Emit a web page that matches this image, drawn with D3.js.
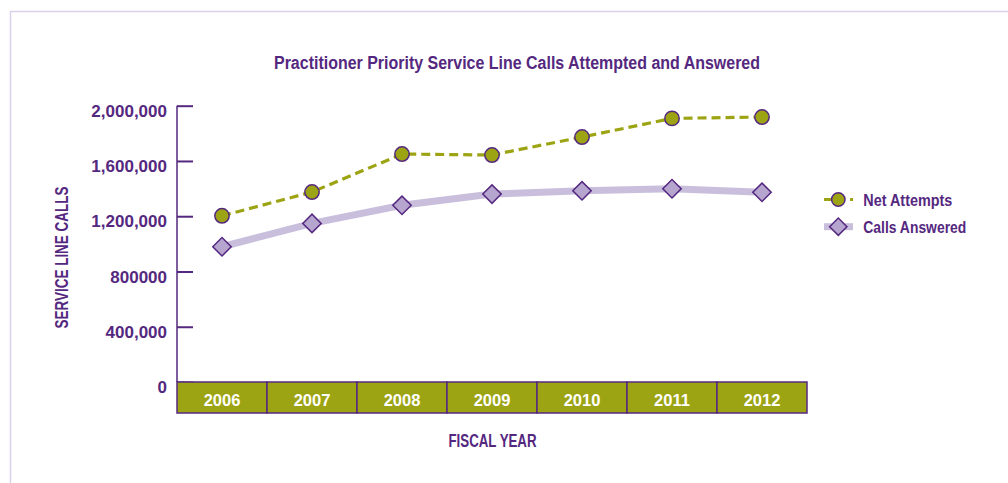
<!DOCTYPE html>
<html>
<head>
<meta charset="utf-8">
<script src="https://cdn.jsdelivr.net/npm/d3@7"></script>
<style>
  html, body { margin: 0; padding: 0; background: #ffffff; }
  svg { display: block; }
  text { font-family: "Liberation Sans", Arial, sans-serif; font-weight: bold; }
</style>
</head>
<body>
<svg id="chart" width="1008" height="483"></svg>
<script>
// Fiscal years and yearly call counts
const years = ["2006", "2007", "2008", "2009", "2010", "2011", "2012"];
const netAttempts = [1203000, 1375000, 1650000, 1643000, 1773000, 1908000, 1918000];
const callsAnswered = [979000, 1148000, 1279000, 1360000, 1384000, 1399000, 1373000];
const yTicks = [0, 400000, 800000, 1200000, 1600000, 2000000];
const yTickLabels = ["0", "400,000", "800000", "1,200,000", "1,600,000", "2,000,000"];
const seriesNames = ["Net Attempts", "Calls Answered"];

(function () {
  const purple = "#55287f";
  const olive = "#9da414";
  const lavLine = "#c9bfdd";
  const lavFill = "#b6a5cf";

  const svg = d3.select("#chart");

  // Condensed look: squeeze a label into a given width
  const fit = (sel, w) => sel.attr("textLength", w).attr("lengthAdjust", "spacingAndGlyphs");

  // Outer frame
  svg.append("path")
    .attr("d", "M10.5,483 L10.5,11.5 L1008,11.5")
    .attr("fill", "none")
    .attr("stroke", "#d9d2e9")
    .attr("stroke-width", 1.5);

  const plotLeft = 177, plotRight = 807, plotTop = 105.7, zeroY = 382, bandH = 31;

  const x = d3.scaleBand().domain(years).range([plotLeft, plotRight]).padding(0);
  const y = d3.scaleLinear().domain([0, 2000000]).range([zeroY, plotTop]);

  // Title
  svg.append("text")
    .attr("x", 517).attr("y", 69.3)
    .attr("text-anchor", "middle")
    .attr("fill", purple)
    .style("font-size", "17.5px")
    .text("Practitioner Priority Service Line Calls Attempted and Answered")
    .call(fit, 486);

  // Y axis
  const yAxis = d3.axisLeft(y)
    .tickValues(yTicks)
    .tickSize(-16)
    .tickPadding(10)
    .tickFormat((d, i) => yTickLabels[i]);

  const gy = svg.append("g")
    .attr("transform", `translate(${plotLeft},0)`)
    .call(yAxis);
  gy.select(".domain").attr("stroke", purple).attr("stroke-width", 1.5)
    .attr("d", `M0,${zeroY}V${plotTop}`);
  gy.selectAll(".tick line").attr("stroke", purple).attr("stroke-width", 2);
  gy.selectAll(".tick text")
    .attr("fill", purple)
    .attr("x", -10)
    .attr("dy", "0.62em")
    .style("font-size", "17px")
    .style("font-family", "'Liberation Sans', Arial, sans-serif")
    .style("font-weight", "bold");

  // Y axis title
  svg.append("text")
    .attr("transform", "translate(68,257.5) rotate(-90)")
    .attr("text-anchor", "middle")
    .attr("fill", purple)
    .style("font-size", "17.5px")
    .text("SERVICE LINE CALLS")
    .call(fit, 142);

  // Category band below the plot
  const band = svg.append("g");
  band.selectAll("rect")
    .data(years)
    .join("rect")
    .attr("x", d => x(d))
    .attr("y", zeroY)
    .attr("width", x.bandwidth())
    .attr("height", bandH)
    .attr("fill", olive)
    .attr("stroke", purple)
    .attr("stroke-width", 1.5);
  band.selectAll("text")
    .data(years)
    .join("text")
    .attr("x", d => x(d) + x.bandwidth() / 2)
    .attr("y", 406)
    .attr("text-anchor", "middle")
    .attr("fill", "#ffffff")
    .style("font-size", "16.5px")
    .text(d => d);

  // X axis title
  svg.append("text")
    .attr("x", 492.5).attr("y", 446.5)
    .attr("text-anchor", "middle")
    .attr("fill", purple)
    .style("font-size", "17.5px")
    .text("FISCAL YEAR")
    .call(fit, 88);

  const cx = d => x(d) + x.bandwidth() / 2;
  const line = d3.line().x(d => cx(d[0])).y(d => y(d[1]));

  const answeredPts = years.map((yr, i) => [yr, callsAnswered[i]]);
  const attemptsPts = years.map((yr, i) => [yr, netAttempts[i]]);

  // Calls Answered line
  svg.append("path")
    .datum(answeredPts)
    .attr("d", line)
    .attr("fill", "none")
    .attr("stroke", lavLine)
    .attr("stroke-width", 7);

  // Net Attempts line
  svg.append("path")
    .datum(attemptsPts)
    .attr("d", line)
    .attr("fill", "none")
    .attr("stroke", olive)
    .attr("stroke-width", 3.2)
    .attr("stroke-dasharray", "9,5");

  const diamond = d3.symbol().type(d3.symbolSquare).size(170);

  svg.append("g").selectAll("path")
    .data(answeredPts)
    .join("path")
    .attr("d", diamond)
    .attr("transform", d => `translate(${cx(d[0])},${y(d[1])}) rotate(45)`)
    .attr("fill", lavFill)
    .attr("stroke", purple)
    .attr("stroke-width", 1.5);

  svg.append("g").selectAll("circle")
    .data(attemptsPts)
    .join("circle")
    .attr("cx", d => cx(d[0]))
    .attr("cy", d => y(d[1]))
    .attr("r", 7.2)
    .attr("fill", olive)
    .attr("stroke", purple)
    .attr("stroke-width", 1.5);

  // Legend
  const legend = svg.append("g");
  const legY = [199.5, 226.7];
  legend.append("line")
    .attr("x1", 824).attr("x2", 853).attr("y1", legY[0]).attr("y2", legY[0])
    .attr("stroke", olive).attr("stroke-width", 3.2).attr("stroke-dasharray", "8,5");
  legend.append("circle")
    .attr("cx", 838.3).attr("cy", legY[0]).attr("r", 6.7)
    .attr("fill", olive).attr("stroke", purple).attr("stroke-width", 1.5);
  legend.append("line")
    .attr("x1", 824).attr("x2", 853).attr("y1", legY[1]).attr("y2", legY[1])
    .attr("stroke", lavLine).attr("stroke-width", 7);
  legend.append("path")
    .attr("d", d3.symbol().type(d3.symbolSquare).size(150))
    .attr("transform", `translate(838.3,${legY[1]}) rotate(45)`)
    .attr("fill", lavFill).attr("stroke", purple).attr("stroke-width", 1.5);
  const legWidths = [89, 103];
  legend.selectAll("text")
    .data(seriesNames)
    .join("text")
    .attr("x", 863.3)
    .attr("y", (d, i) => legY[i] + 6.3)
    .attr("fill", purple)
    .style("font-size", "17px")
    .text(d => d)
    .each(function (d, i) { d3.select(this).call(fit, legWidths[i]); });
})();
</script>
</body>
</html>
